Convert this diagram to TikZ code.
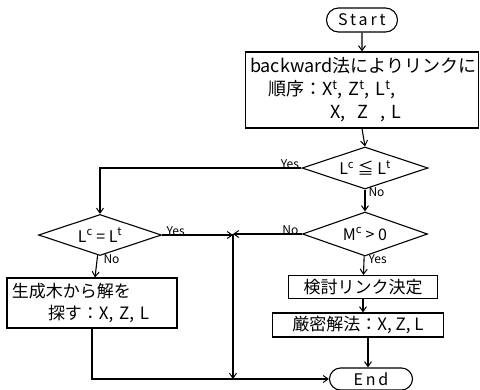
\documentclass[tikz,border=0pt]{standalone}
\usepackage{fontspec}
\setmainfont{Noto Sans CJK JP}
\usetikzlibrary{shapes.geometric,shapes.misc,arrows.meta}
\begin{document}
\begin{tikzpicture}[x=1pt,y=-1pt,
  line width=1.1pt,
  arr/.style={-{Straight Barb[length=5pt,width=7pt,line width=1pt]}},
  term/.style={draw,rounded rectangle,inner sep=0pt,font=\fontsize{16}{18}\selectfont\addfontfeature{LetterSpace=18}},
  procbox/.style={draw,rectangle,inner sep=0pt,font=\fontsize{17}{22}\selectfont},
  decide/.style={draw,diamond,aspect=3,inner sep=0pt,font=\fontsize{16}{18}\selectfont},
  lbl/.style={inner sep=0pt,font=\fontsize{12}{13}\selectfont}]
\useasboundingbox (0,0) rectangle (480,389);
\node[term,minimum width=71pt,minimum height=24pt] (start) at (362,20) {Start};
\node[procbox,minimum width=233pt,minimum height=76pt,text width=224pt,align=left,
  font=\fontsize{18}{23}\selectfont] (b1) at (362,90)
  {backward法によりリンクに\\
   \hspace*{18pt}順序：X\textsuperscript{t}, Z\textsuperscript{t}, L\textsuperscript{t},\\
   \hspace*{80pt}X, \ Z \ , L};
\node[decide,minimum width=126pt,minimum height=42pt] (d1) at (365,168) {L\textsuperscript{c} ≦ L\textsuperscript{t}};
\node[decide,minimum width=125pt,minimum height=44pt] (d3) at (365,234) {M\textsuperscript{c} > 0};
\node[decide,minimum width=123pt,minimum height=41pt] (d2) at (100,235) {L\textsuperscript{c} = L\textsuperscript{t}};
\node[procbox,minimum width=149pt,minimum height=23pt] (b2) at (363,287) {検討リンク決定};
\node[procbox,minimum width=171pt,minimum height=24pt] (b3) at (358,325) {厳密解法：X, Z, L};
\node[procbox,minimum width=170pt,minimum height=50pt,text width=160pt,align=left,
  font=\fontsize{17}{22}\selectfont] (b4) at (92,303)
  {生成木から解を\\ \hspace*{36pt}探す：X, Z, L};
\node[term,minimum width=83pt,minimum height=22pt] (end) at (371,379) {End};
\coordinate (j) at (233,234);
\coordinate (jb) at (233,379);
% connectors
\draw[arr] (start) -- (b1);
\draw[arr] (b1.south) -- (d1.north);
\draw[arr] (d1) -- (d3);
\draw[arr] (d3) -- (b2);
\draw[arr] (b2) -- (b2 |- b3.north);
\draw[arr] ([xshift=10pt]b3.south) -- ([xshift=-3pt]end.north);
\draw[arr] (d1.west) -| (d2.north);
\draw[arr] (d2.east) -- (d2.east -| j);
\draw[arr] (d3.west) -- (j);
\draw[arr] (j) -- (jb);
\draw[arr] (d2) -- (b4);
\draw[arr] (b4.south) |- (end.west);
% labels
\node[lbl,anchor=south east] (l1) at ([xshift=-2pt,yshift=-1pt]d1.west) {Yes};
\node[lbl,anchor=north west] (l2) at ([xshift=3pt,yshift=2pt]d1.south) {No};
\node[lbl,anchor=south west] (l3) at ([xshift=4pt,yshift=-1pt]d2.east) {Yes};
\node[lbl,anchor=north west] (l4) at ([xshift=3pt,yshift=2pt]d2.south) {No};
\node[lbl,anchor=south east] (l5) at ([xshift=-3pt,yshift=-1pt]d3.west) {No};
\node[lbl,anchor=north west] (l6) at ([xshift=3pt,yshift=2pt]d3.south) {Yes};
\end{tikzpicture}
\end{document}
